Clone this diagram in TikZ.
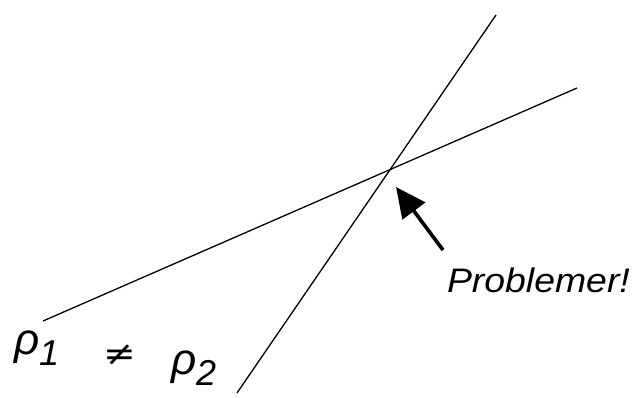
\documentclass[tikz,border=0pt]{standalone}
\usepackage{fontspec}
\setmainfont{Liberation Sans}
\newfontfamily\symfont{DejaVu Sans}
\usetikzlibrary{arrows.meta}
\tikzset{
  thinline/.style={line width=1.3pt, black},
  lbl/.style={inner sep=0pt, outer sep=0pt, font=\itshape},
  bigarrow/.style={line width=3.6pt, -{Triangle[length=30pt,width=28pt]}},
}
\begin{document}
\begin{tikzpicture}[x=1pt,y=-1pt]
\useasboundingbox (0,0) rectangle (637,397);
\coordinate (a1) at (43,321);
\coordinate (a2) at (577,88);
\coordinate (b1) at (237,393);
\coordinate (b2) at (496,15);
\coordinate (tail) at (443,250);
\coordinate (tip) at (396,187);
\draw[thinline] (a1) -- (a2);
\draw[thinline] (b1) -- (b2);
\draw[bigarrow] (tail) -- (tip);
\node[lbl, anchor=base west, xscale=1.1] (prob) at (447,292) {\fontsize{34}{34}\selectfont Problemer!};
\node[lbl, anchor=base west] (rho1) at (14,354) {\fontsize{44}{44}\selectfont ρ\raisebox{-11pt}{\fontsize{36}{36}\selectfont 1}};
\node[inner sep=0pt, anchor=center, xscale=1.15] (neq) at (120,355) {\symfont\fontsize{34}{34}\selectfont ≠};
\node[lbl, anchor=base west] (rho2) at (171,374) {\fontsize{44}{44}\selectfont ρ\raisebox{-11pt}{\fontsize{36}{36}\selectfont 2}};
\end{tikzpicture}
\end{document}
